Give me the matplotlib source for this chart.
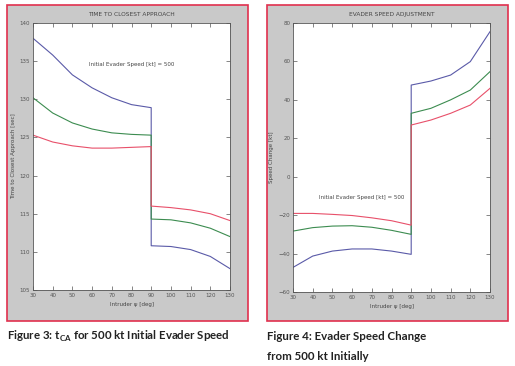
import matplotlib
matplotlib.use("Agg")
import matplotlib.pyplot as plt
from matplotlib.patches import Rectangle

# ---- data ----
x_left = [30, 40, 50, 60, 70, 80, 90]
x_right = [90, 100, 110, 120, 130]

# Figure 3: time to closest approach [sec]
tca_blue_l = [138.0, 135.8, 133.2, 131.5, 130.2, 129.3, 128.9]
tca_green_l = [130.2, 128.2, 126.9, 126.1, 125.6, 125.4, 125.3]
tca_red_l = [125.3, 124.4, 123.9, 123.6, 123.6, 123.7, 123.8]
tca_blue_r = [110.8, 110.7, 110.3, 109.4, 107.8]
tca_green_r = [114.3, 114.2, 113.8, 113.1, 112.0]
tca_red_r = [116.0, 115.8, 115.5, 115.0, 114.1]

# Figure 4: evader speed change [kt]
spd_blue_l = [-47.2, -41.3, -38.7, -37.6, -37.6, -38.7, -40.4]
spd_green_l = [-28.3, -26.5, -25.7, -25.5, -26.3, -27.9, -30.0]
spd_red_l = [-19.1, -19.1, -19.6, -20.2, -21.4, -22.9, -25.2]
spd_blue_r = [47.7, 49.8, 52.9, 59.9, 75.5]
spd_green_r = [33.0, 35.6, 40.0, 45.1, 54.7]
spd_red_r = [26.9, 29.5, 33.0, 37.3, 46.0]

xticks = [30, 40, 50, 60, 70, 80, 90, 100, 110, 120, 130]
yticks_tca = [105, 110, 115, 120, 125, 130, 135, 140]
yticks_spd = [-60, -40, -20, 0, 20, 40, 60, 80]

titles = ["TIME TO CLOSEST APPROACH", "EVADER SPEED ADJUSTMENT"]
ylabels = ["Time to Closest Approach [sec]", "Speed Change [kt]"]
xlabel = "Intruder \u03c8 [deg]"
note = "Initial Evader Speed [kt] = 500"

BLUE = "#5a5aa8"
GREEN = "#3c8c50"
RED = "#e8506a"
GREY = "#c9c9c9"
BORDER = "#e0304e"
SMALL = ["Liberation Sans Narrow", "DejaVu Sans"]
CAP = ["Lato", "DejaVu Sans"]

W, H = 515, 366
fig = plt.figure(figsize=(W / 100, H / 100), dpi=100)
fig.patch.set_facecolor("white")

def px_rect(x0, y0, x1, y1):
    return (x0 / W, 1 - y1 / H, (x1 - x0) / W, (y1 - y0) / H)

for (x0, x1) in [(7, 248), (267, 508)]:
    l, b, w, h = px_rect(x0, 5, x1, 321)
    fig.patches.append(Rectangle((l, b), w, h, transform=fig.transFigure,
                                 facecolor=GREY, edgecolor=BORDER, linewidth=1.2, zorder=-5))

ax1 = fig.add_axes(px_rect(33, 23, 230, 290))
ax2 = fig.add_axes(px_rect(293, 23, 490, 292))
ax1.set_zorder(2)
ax2.set_zorder(2)

def style(ax, yticks, title, ylabel):
    ax.set_facecolor("white")
    ax.set_xlim(30, 130)
    ax.set_ylim(yticks[0], yticks[-1])
    ax.set_xticks(xticks)
    ax.set_yticks(yticks)
    ax.tick_params(direction="in", top=True, right=True, length=3, width=0.5,
                   labelsize=4, colors="#555555", pad=2)
    for lab in ax.get_xticklabels() + ax.get_yticklabels():
        lab.set_family(SMALL)
    for s in ax.spines.values():
        s.set_linewidth(0.6)
        s.set_color("#555555")
    ax.set_title(title, fontsize=4.2, color="#444444", pad=5, family=SMALL)
    ax.set_xlabel(xlabel, fontsize=4, color="#444444", labelpad=3, family=SMALL)
    ax.set_ylabel(ylabel, fontsize=4, color="#444444", labelpad=3, family=SMALL)

lw = 0.8
for xs, ys, c in [(x_left + x_right, tca_blue_l + tca_blue_r, BLUE),
                  (x_left + x_right, tca_green_l + tca_green_r, GREEN),
                  (x_left + x_right, tca_red_l + tca_red_r, RED)]:
    ax1.plot(xs, ys, color=c, lw=lw)
style(ax1, yticks_tca, titles[0], ylabels[0])
ax1.text(0.5, 0.846, note, transform=ax1.transAxes, fontsize=4, color="#444444",
         ha="center", va="center", family=SMALL)

for xs, ys, c in [(x_left + x_right, spd_blue_l + spd_blue_r, BLUE),
                  (x_left + x_right, spd_green_l + spd_green_r, GREEN),
                  (x_left + x_right, spd_red_l + spd_red_r, RED)]:
    ax2.plot(xs, ys, color=c, lw=lw)
style(ax2, yticks_spd, titles[1], ylabels[1])
ax2.text(0.35, 0.35, note, transform=ax2.transAxes, fontsize=4, color="#444444",
         ha="center", va="center", family=SMALL)

fig.text(7 / W, 1 - 340 / H, "Figure 3: t$_{\\mathregular{CA}}$ for 500 kt Initial Evader Speed",
         fontsize=8.3, color="#222222", family=CAP, fontweight="bold")
fig.text(267 / W, 1 - 340 / H, "Figure 4: Evader Speed Change",
         fontsize=8.3, color="#222222", family=CAP, fontweight="bold")
fig.text(267 / W, 1 - 360 / H, "from 500 kt Initially",
         fontsize=8.3, color="#222222", family=CAP, fontweight="bold")

fig.savefig("out.png", dpi=100)
